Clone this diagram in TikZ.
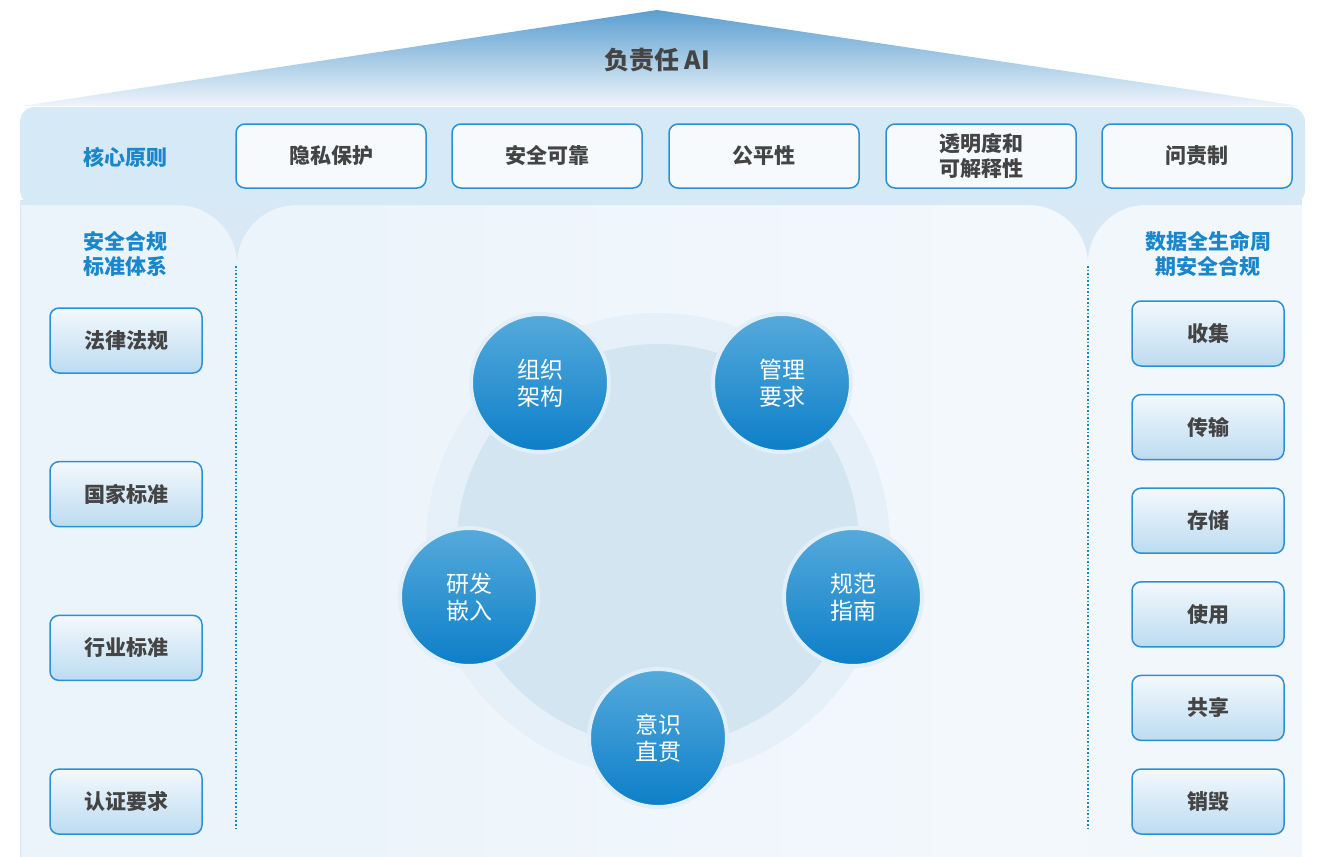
\documentclass[tikz,border=0pt]{standalone}
\usepackage{fontspec}
\setmainfont{Noto Sans CJK SC}
\usepackage{tikz}

\definecolor{roofblue}{HTML}{5B9ED0}
\definecolor{roofmid}{HTML}{A9CDE8}
\definecolor{roofpale}{HTML}{EEF5FB}
\definecolor{bandblue}{HTML}{D5E9F6}
\definecolor{gapblue}{HTML}{D8E9F5}
\definecolor{panelblue}{HTML}{ECF4FB}
\definecolor{headblue}{HTML}{1A87CC}
\definecolor{edgeblue}{HTML}{2E90D4}
\definecolor{textgray}{HTML}{444444}
\definecolor{ballhi}{HTML}{56AADB}
\definecolor{balllo}{HTML}{0C7FC8}
\definecolor{ballring}{HTML}{E2EFF8}
\definecolor{ringout}{HTML}{E6F0F8}
\definecolor{ringin}{HTML}{D3E5F1}

\begin{document}
\begin{tikzpicture}[x=1pt,y=-1pt,
    principle/.style={draw=edgeblue, line width=1.5pt, rounded corners=9pt,
      fill=white!55!panelblue, minimum width=190pt, minimum height=64pt,
      font=\fontsize{21}{25}\selectfont\bfseries, text=textgray, align=center},
    stdbox/.style={draw=edgeblue, line width=1.5pt, rounded corners=9pt,
      top color=white!40!panelblue, bottom color=bandblue!85!edgeblue,
      minimum width=152pt, minimum height=65pt,
      font=\fontsize{21}{25}\selectfont\bfseries, text=textgray},
    ball/.style={circle, minimum size=138pt, top color=ballhi, bottom color=balllo,
      draw=ballring, line width=4pt, text=white, align=center,
      font=\fontsize{23}{27}\selectfont},
    heading/.style={text=headblue, align=center,
      font=\fontsize{21}{25}\selectfont\bfseries}]

  \useasboundingbox (0,0) rectangle (1318,857);

  % Roof
  \shade[top color=roofblue, middle color=roofmid, bottom color=roofpale]
    (22,106) -- (657,10) -- (1300,106) -- cycle;
  \node[font=\fontsize{25}{30}\selectfont\bfseries, text=textgray] (title) at (657,60) {负责任 AI};

  % Body panels
  \fill[gapblue] (20,200) rectangle (1302,857);
  \begin{scope}
    \clip (20,200) rectangle (1302,857);
    \fill[panelblue, rounded corners=60pt] (-100,205) rectangle (237,1000);
    \shade[left color=panelblue!95!gapblue, right color=white!40!panelblue, rounded corners=60pt]
      (237,205) rectangle (1088,1000);
    \fill[white!30!panelblue, rounded corners=58pt] (1088,205) rectangle (1400,1000);
  \end{scope}
  \draw[gapblue, line width=1pt] (20.5,205) -- (20.5,857);

  % Principle band
  \fill[bandblue, rounded corners=15pt] (20,107) rectangle (1305,205);
  \node[heading] (core) at (125,157) {核心原则};
  \node[principle] (p1) at (331,156) {隐私保护};
  \node[principle] (p2) at (547,156) {安全可靠};
  \node[principle] (p3) at (764,156) {公平性};
  \node[principle] (p4) at (981,156) {透明度和\\可解释性};
  \node[principle] (p5) at (1197,156) {问责制};

  % Separators
  \coordinate (lsepA) at (236,266);
  \coordinate (lsepB) at (236,830);
  \coordinate (rsepA) at (1088,266);
  \coordinate (rsepB) at (1088,830);
  \draw[headblue, line width=1.6pt, dotted] (lsepA) -- (lsepB);
  \draw[headblue, line width=1.6pt, dotted] (rsepA) -- (rsepB);

  % Left column
  \node[heading] (stdhead) at (125,254) {安全合规\\标准体系};
  \foreach \txt [count=\i] in {法律法规, 国家标准, 行业标准, 认证要求}
    \node[stdbox] (std\i) at (126,{340.5+153.7*(\i-1)}) {\txt};

  % Right column
  \node[heading] (lifehead) at (1208,254) {数据全生命周\\期安全合规};
  \foreach \txt [count=\i] in {收集, 传输, 存储, 使用, 共享, 销毁}
    \node[stdbox] (life\i) at (1208,{333.5+93.6*(\i-1)}) {\txt};

  % Center rings
  \fill[ringout] (658,545) circle (232pt);
  \fill[ringin] (658,545) circle (201pt);

  \node[ball] (org) at (540,383) {组织\\架构};
  \node[ball] (mgmt) at (782,383) {管理\\要求};
  \node[ball] (rnd) at (469,597) {研发\\嵌入};
  \node[ball] (norm) at (853,597) {规范\\指南};
  \node[ball] (aware) at (658,738) {意识\\直贯};
\end{tikzpicture}
\end{document}
